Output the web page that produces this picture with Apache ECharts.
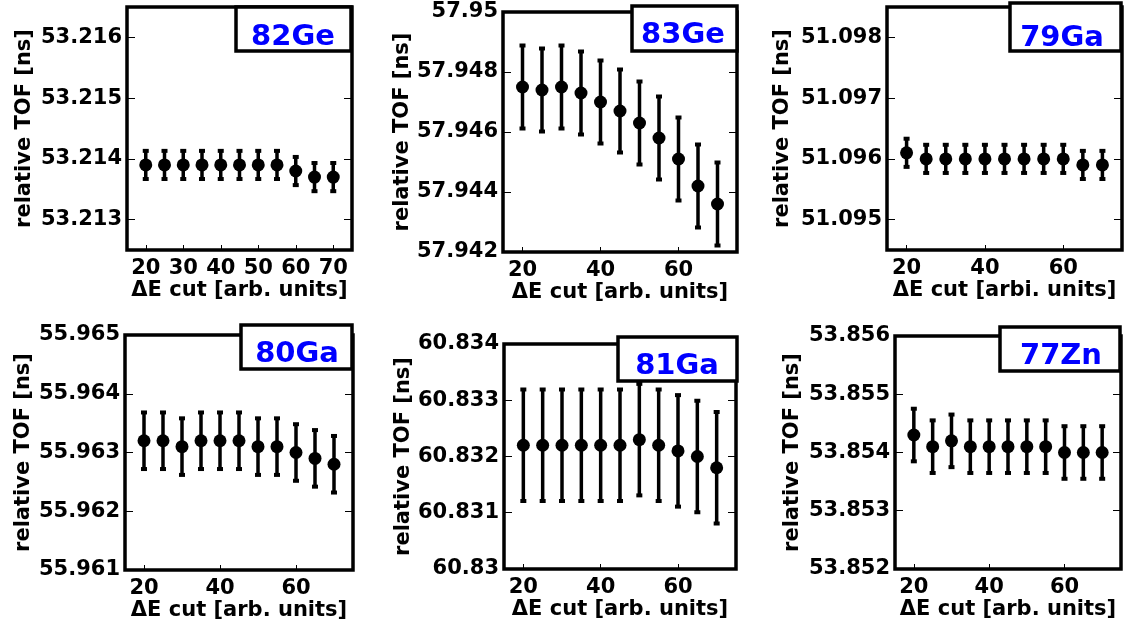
<!DOCTYPE html>
<html>
<head>
<meta charset="utf-8">
<script src="https://cdn.jsdelivr.net/npm/echarts@6/dist/echarts.min.js"></script>
<style>
html,body{margin:0;padding:0;background:#fff;}
#c{width:1131px;height:633px;}
</style>
</head>
<body>
<div id="c"></div>
<script>
// ---- data ----
const cuts = [20, 25, 30, 35, 40, 45, 50, 55, 60, 65, 70];

const tof82Ge = [53.2139, 53.2139, 53.2139, 53.2139, 53.2139, 53.2139, 53.2139, 53.2139, 53.2138, 53.2137, 53.2137];
const err82Ge = [0.00024, 0.00024, 0.00024, 0.00024, 0.00024, 0.00024, 0.00024, 0.00024, 0.00024, 0.00024, 0.00024];

const tof83Ge = [57.9475, 57.9474, 57.9475, 57.9473, 57.9470, 57.9467, 57.9463, 57.9458, 57.9451, 57.9442, 57.9436];
const err83Ge = [0.0014, 0.0014, 0.0014, 0.0014, 0.0014, 0.0014, 0.0014, 0.0014, 0.0014, 0.0014, 0.0014];

const tof79Ga = [51.0961, 51.0960, 51.0960, 51.0960, 51.0960, 51.0960, 51.0960, 51.0960, 51.0960, 51.0959, 51.0959];
const err79Ga = [0.00024, 0.00024, 0.00024, 0.00024, 0.00024, 0.00024, 0.00024, 0.00024, 0.00024, 0.00024, 0.00024];

const tof80Ga = [55.9632, 55.9632, 55.9631, 55.9632, 55.9632, 55.9632, 55.9631, 55.9631, 55.9630, 55.9629, 55.9628];
const err80Ga = [0.00049, 0.00049, 0.00049, 0.00049, 0.00049, 0.00049, 0.00049, 0.00049, 0.00049, 0.00049, 0.00049];

const tof81Ga = [60.8322, 60.8322, 60.8322, 60.8322, 60.8322, 60.8322, 60.8323, 60.8322, 60.8321, 60.8320, 60.8318];
const err81Ga = [0.001, 0.001, 0.001, 0.001, 0.001, 0.001, 0.001, 0.001, 0.001, 0.001, 0.001];

const tof77Zn = [53.8543, 53.8541, 53.8542, 53.8541, 53.8541, 53.8541, 53.8541, 53.8541, 53.8540, 53.8540, 53.8540];
const err77Zn = [0.00046, 0.00046, 0.00046, 0.00046, 0.00046, 0.00046, 0.00046, 0.00046, 0.00046, 0.00046, 0.00046];

const yTicks82Ge = [53.213, 53.214, 53.215, 53.216];
const yTicks83Ge = [57.942, 57.944, 57.946, 57.948, 57.95];
const yTicks79Ga = [51.095, 51.096, 51.097, 51.098];
const yTicks80Ga = [55.961, 55.962, 55.963, 55.964, 55.965];
const yTicks81Ga = [60.83, 60.831, 60.832, 60.833, 60.834];
const yTicks77Zn = [53.852, 53.853, 53.854, 53.855, 53.856];

const xTicksFine = [20, 30, 40, 50, 60, 70];
const xTicks = [20, 40, 60];

const isotopes = ['82Ge', '83Ge', '79Ga', '80Ga', '81Ga', '77Zn'];
const yTitle = 'relative TOF [ns]';
const xTitle = '\u0394E cut [arb. units]';
const xTitleArbi = '\u0394E cut [arbi. units]';

// ---- layout / styles ----
const FONT = 'DejaVu Sans';
const panels = [
  {vals: tof82Ge, errs: err82Ge, yt: yTicks82Ge, xt: xTicksFine, xname: xTitle,
   grid: {left: 127, top: 7, width: 225, height: 243}, ymin: 53.2125, ymax: 53.2165, nameGap: 92,
   box: {x: 236, y: 7, w: 115, h: 44}, txt: [293, 37]},
  {vals: tof83Ge, errs: err83Ge, yt: yTicks83Ge, xt: xTicks, xname: xTitle,
   grid: {left: 503, top: 12, width: 234, height: 240}, ymin: 57.942, ymax: 57.95, nameGap: 90,
   box: {x: 632, y: 6, w: 105, h: 45}, txt: [683, 35]},
  {vals: tof79Ga, errs: err79Ga, yt: yTicks79Ga, xt: xTicks, xname: xTitleArbi,
   grid: {left: 887, top: 7, width: 235, height: 243}, ymin: 51.0945, ymax: 51.0985, nameGap: 94,
   box: {x: 1010, y: 3, w: 111, h: 48}, txt: [1062, 38]},
  {vals: tof80Ga, errs: err80Ga, yt: yTicks80Ga, xt: xTicks, xname: xTitle,
   grid: {left: 125, top: 335, width: 228, height: 235}, ymin: 55.961, ymax: 55.965, nameGap: 91,
   box: {x: 241, y: 325, w: 111, h: 44}, txt: [297, 354]},
  {vals: tof81Ga, errs: err81Ga, yt: yTicks81Ga, xt: xTicks, xname: xTitle,
   grid: {left: 504, top: 344, width: 232, height: 225}, ymin: 60.83, ymax: 60.834, nameGap: 90,
   box: {x: 618, y: 337, w: 119, h: 44}, txt: [677, 366]},
  {vals: tof77Zn, errs: err77Zn, yt: yTicks77Zn, xt: xTicks, xname: xTitle,
   grid: {left: 895, top: 336, width: 226, height: 233}, ymin: 53.852, ymax: 53.856, nameGap: 92,
   box: {x: 1000, y: 327, w: 120, h: 44}, txt: [1061, 356]}
];

const fmt = v => String(parseFloat(Number(v).toFixed(4)));

const grid = [], xAxis = [], yAxis = [], series = [], graphic = [];
panels.forEach((p, i) => {
  grid.push(Object.assign({show: true, borderColor: '#000', borderWidth: 3.5, backgroundColor: 'transparent'}, p.grid));
  xAxis.push({
    type: 'value', gridIndex: i, min: 15, max: 75,
    name: p.xname, nameLocation: 'middle', nameGap: 29,
    nameTextStyle: {fontFamily: FONT, fontWeight: 'bold', fontSize: 21, color: '#000'},
    axisLine: {show: false}, splitLine: {show: false},
    axisTick: {show: true, inside: true, length: 5, customValues: p.xt, lineStyle: {color: '#000', width: 1}},
    axisLabel: {customValues: p.xt, margin: 8, fontFamily: FONT, fontWeight: 'bold', fontSize: 21, color: '#000'}
  });
  yAxis.push({
    type: 'value', gridIndex: i, min: p.ymin, max: p.ymax, position: 'left',
    name: yTitle, nameLocation: 'middle', nameGap: p.nameGap,
    nameTextStyle: {fontFamily: FONT, fontWeight: 'bold', fontSize: 21, color: '#000'},
    axisLine: {show: false}, splitLine: {show: false},
    axisTick: {show: true, inside: true, length: 8, customValues: p.yt, lineStyle: {color: '#000', width: 1}},
    axisLabel: {customValues: p.yt, margin: 5, formatter: fmt, fontFamily: FONT, fontWeight: 'bold', fontSize: 21, color: '#000'}
  });
  yAxis.push({
    type: 'value', gridIndex: i, min: p.ymin, max: p.ymax, position: 'right',
    axisLine: {show: false}, splitLine: {show: false},
    axisTick: {show: true, inside: true, length: 8, customValues: p.yt, lineStyle: {color: '#000', width: 1}},
    axisLabel: {show: false}
  });
  const errData = cuts.map((c, k) => [c, p.vals[k], p.errs[k]]);
  series.push({
    type: 'custom', xAxisIndex: i, yAxisIndex: 2 * i, data: errData,
    encode: {x: 0, y: 1}, z: 3, silent: true,
    renderItem: (params, api) => {
      const x = api.value(0), y = api.value(1), e = api.value(2);
      const t = api.coord([x, y + e]);
      const b = api.coord([x, y - e]);
      return {type: 'group', children: [
        {type: 'line', shape: {x1: t[0], y1: t[1], x2: b[0], y2: b[1]}, style: {stroke: '#000', lineWidth: 3.5}},
        {type: 'rect', shape: {x: t[0] - 3, y: t[1] - 1.5, width: 6, height: 4}, style: {fill: '#000'}},
        {type: 'rect', shape: {x: b[0] - 3, y: b[1] - 2.5, width: 6, height: 4}, style: {fill: '#000'}}
      ]};
    }
  });
  series.push({
    type: 'scatter', xAxisIndex: i, yAxisIndex: 2 * i,
    data: cuts.map((c, k) => [c, p.vals[k]]),
    symbol: 'circle', symbolSize: 13, itemStyle: {color: '#000', opacity: 1}, z: 4, silent: true
  });
  graphic.push({
    type: 'rect', z: 100, shape: {x: p.box.x, y: p.box.y, width: p.box.w, height: p.box.h},
    style: {fill: '#fff', stroke: '#000', lineWidth: 3.5}
  });
  graphic.push({
    type: 'text', z: 101, x: p.txt[0], y: p.txt[1],
    style: {text: isotopes[i], fill: '#0000ff', font: 'bold 29px "DejaVu Sans"', align: 'center', verticalAlign: 'middle'}
  });
});

const chart = echarts.init(document.getElementById('c'), null, {renderer: 'canvas'});
chart.setOption({
  animation: false,
  backgroundColor: '#fff',
  grid, xAxis, yAxis, series, graphic
});
</script>
</body>
</html>
